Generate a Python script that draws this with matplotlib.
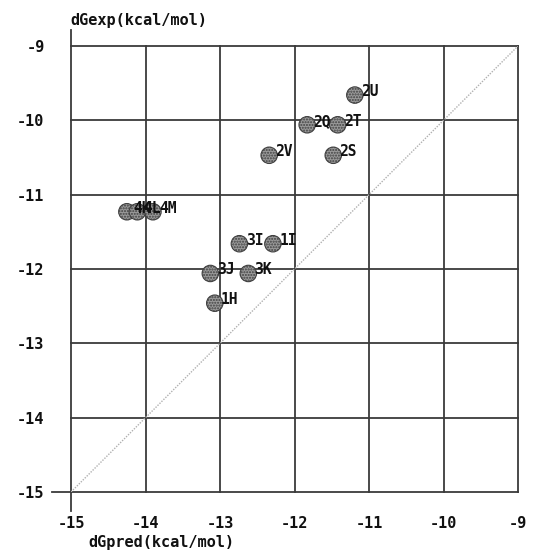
import matplotlib
matplotlib.use("Agg")
import matplotlib.pyplot as plt

labels = ["2U", "2Q", "2T", "2V", "2S", "3I", "1I", "3J", "3K", "1H", "4K", "4L", "4M"]
dg_pred = [-11.19, -11.83, -11.42, -12.34, -11.48, -12.74, -12.29, -13.13, -12.62, -13.07, -14.25, -14.11, -13.90]
dg_exp = [-9.66, -10.06, -10.06, -10.47, -10.47, -11.66, -11.66, -12.06, -12.06, -12.46, -11.23, -11.23, -11.23]
ticks = [-15, -14, -13, -12, -11, -10, -9]
tick_labels = ["-15", "-14", "-13", "-12", "-11", "-10", "-9"]

fig = plt.figure(figsize=(5.33, 5.5), dpi=100)
ax = fig.add_axes([71/533, 58/550, 447/533, 446/550])
ax.set_xlim(-15, -9)
ax.set_ylim(-15, -9)
for s in ax.spines.values():
    s.set_visible(False)

gc = "#3a3a3a"
lw = 1.3
for t in ticks:
    y0 = -15.25 if t == -15 else -15
    y1 = -8.78 if t == -15 else -9
    ax.plot([t, t], [y0, y1], color=gc, lw=lw, clip_on=False, zorder=1)
    x0 = -15.25 if t == -15 else -15
    ax.plot([x0, -9], [t, t], color=gc, lw=lw, clip_on=False, zorder=1)

ax.plot([-15, -9], [-15, -9], color="#b0b0b0", lw=1.0, ls=(0, (1, 1)), zorder=2)

ax.scatter(dg_pred, dg_exp, s=140, facecolor="#9a9a9a", edgecolor="#404040",
           hatch="......", linewidth=0.8, zorder=3)
for lab, x, y in zip(labels, dg_pred, dg_exp):
    ax.annotate(lab, (x, y), xytext=(4.5, 2.5), textcoords="offset points",
                ha="left", va="center", fontsize=10.5, family="DejaVu Sans Mono",
                fontweight="bold", color="#111111", zorder=4)

ax.set_xticks(ticks)
ax.set_xticklabels(tick_labels)
ax.set_yticks(ticks)
ax.set_yticklabels(tick_labels)
ax.tick_params(axis="x", length=0, pad=17)
ax.tick_params(axis="y", length=0, pad=19)
for t in ax.get_xticklabels() + ax.get_yticklabels():
    t.set_family("DejaVu Sans Mono")
    t.set_fontweight("bold")
    t.set_fontsize(11)
    t.set_color("#111111")

fig.text(88/533, 1 - 543/550, "dGpred(kcal/mol)", ha="left", va="center",
         family="DejaVu Sans Mono", fontweight="bold", fontsize=11, color="#111111")
fig.text(70/533, 1 - 20/550, "dGexp(kcal/mol)", ha="left", va="center",
         family="DejaVu Sans Mono", fontweight="bold", fontsize=11, color="#111111")

fig.savefig("out.png", dpi=100)
